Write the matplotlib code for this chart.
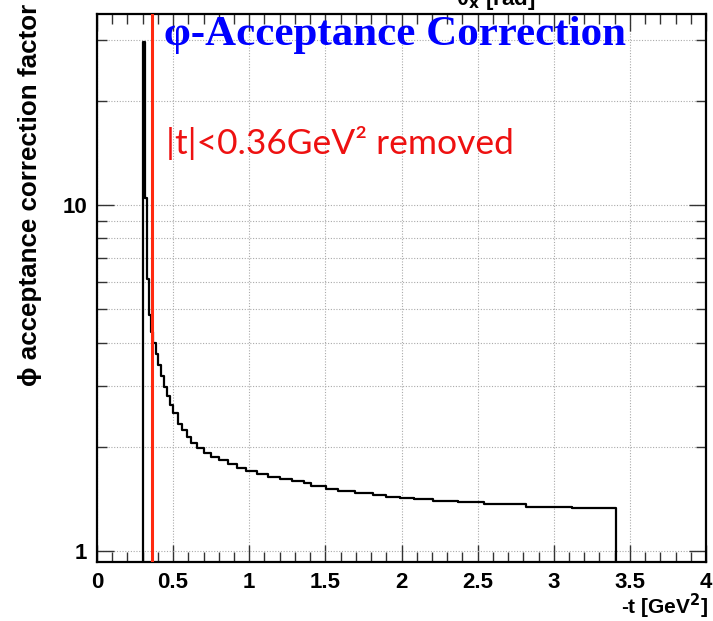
import matplotlib
matplotlib.use('Agg')
import matplotlib.pyplot as plt
from matplotlib.ticker import FixedLocator, NullFormatter

# bin edges in -t [GeV^2] and acceptance correction per bin
edges = [0.305, 0.318, 0.330, 0.343, 0.356, 0.370, 0.385, 0.40, 0.42, 0.44,
         0.46, 0.48, 0.50, 0.53, 0.56, 0.59, 0.62, 0.66, 0.70, 0.75,
         0.80, 0.86, 0.92, 0.98, 1.05, 1.12, 1.20, 1.28, 1.36, 1.408,
         1.506, 1.582, 1.692, 1.812, 1.900, 1.987, 2.085, 2.205, 2.369, 2.544,
         2.820, 3.123, 3.410]
values = [29.6, 10.5, 6.1, 4.8, 4.3, 4.0, 3.7, 3.45, 3.2,
          2.98, 2.8, 2.64, 2.5, 2.33, 2.23, 2.14, 2.05, 1.98, 1.92,
          1.87, 1.83, 1.78, 1.74, 1.70, 1.67, 1.64, 1.61, 1.59, 1.569,
          1.541, 1.513, 1.493, 1.474, 1.455, 1.435, 1.426, 1.413, 1.398, 1.383,
          1.364, 1.343, 1.331]
t_cut = 0.36
x_ticks = [0, 0.5, 1, 1.5, 2, 2.5, 3, 3.5, 4]
x_labels = ['0', '0.5', '1', '1.5', '2', '2.5', '3', '3.5', '4']
y_major = [1, 10]
y_minor = [2, 3, 4, 5, 6, 7, 8, 9, 20, 30]

W, H = 713, 621
fig = plt.figure(figsize=(W / 100, H / 100), dpi=100)
ax = fig.add_axes([97 / W, (H - 562) / H, 609 / W, 548 / H])

ymin, ymax = 0.929, 35.6
ax.set_yscale('log')
ax.set_xlim(0, 4)
ax.set_ylim(ymin, ymax)

# histogram outline, dropping to the frame at both ends
xs = [edges[0]]
ys = [ymin]
for i, v in enumerate(values):
    xs += [edges[i], edges[i + 1]]
    ys += [v, v]
xs.append(edges[-1])
ys.append(ymin)
ax.plot(xs, ys, color='black', lw=1.6, zorder=3)

ax.axvline(t_cut, color='#ff2a10', lw=2.2, zorder=4)

# ticks & grid (ROOT style)
ax.set_xticks(x_ticks)
ax.set_xticklabels(x_labels)
ax.xaxis.set_minor_locator(FixedLocator([i / 10 for i in range(41)]))
ax.yaxis.set_major_locator(FixedLocator(y_major))
ax.yaxis.set_minor_locator(FixedLocator(y_minor))
ax.set_yticklabels(['1', '10'])
ax.yaxis.set_minor_formatter(NullFormatter())
ax.tick_params(which='both', direction='in', top=True, right=True, width=1, color='#333333')
ax.tick_params(which='major', length=12)
ax.tick_params(which='minor', length=7)
ax.tick_params(axis='both', which='major', labelsize=16, pad=7)
for lab in ax.get_xticklabels() + ax.get_yticklabels():
    lab.set_fontweight('bold')
    lab.set_fontfamily('Liberation Sans')
ax.grid(axis='x', which='major', color='#aaaaaa', ls=(0, (1, 1.5)), lw=0.8)
ax.grid(axis='y', which='both', color='#aaaaaa', ls=(0, (1, 1.5)), lw=0.8)
for s in ax.spines.values():
    s.set_linewidth(1.6)

# texts
fig.text(30 / W, 1 - 4 / H, 'ϕ acceptance correction factor', rotation=90,
         ha='center', va='top', fontsize=18.7, fontweight='bold',
         family=['Liberation Sans', 'DejaVu Sans'])
fig.text(708 / W, 1 - 606 / H, '-t [GeV$^\\mathbf{2}$]', ha='right', va='center',
         fontsize=15, fontweight='bold', family='Liberation Sans')
fig.text(456 / W, 1 - 4.5 / H, 'θ$_\\mathbf{x}$ [rad]', ha='left', va='baseline',
         fontsize=16, fontweight='bold', family=['Liberation Sans', 'DejaVu Sans'])
ax.text(0.44, 31.0, 'φ-Acceptance Correction', color='#0000ff', fontsize=31,
        fontweight='bold', family=['Liberation Serif', 'DejaVu Serif'], va='center')
ax.text(0.45, 15.1, '|t|<0.36GeV² removed', color='#ee1111', fontsize=25.5,
        family=['Lato', 'DejaVu Sans'], va='center')

fig.savefig('out.png', dpi=100)
plt.close(fig)
